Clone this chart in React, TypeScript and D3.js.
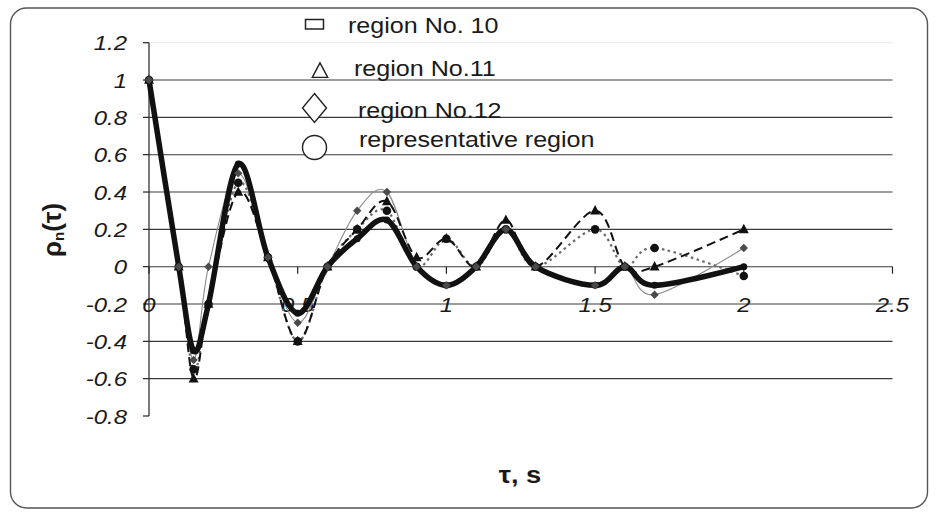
import React from "react";
import * as d3 from "d3";

// Lag values (s) and normalised autocorrelation for each region
const TAU = [0, 0.1, 0.15, 0.2, 0.3, 0.4, 0.5, 0.6, 0.7, 0.8, 0.9, 1.0, 1.1, 1.2, 1.3, 1.5, 1.6, 1.7, 2.0];
const REGION_10 = [1, 0, -0.55, -0.2, 0.45, 0.05, -0.4, 0, 0.2, 0.3, 0, 0.15, 0, 0.2, 0, 0.2, 0, 0.1, -0.05];
const REGION_11 = [1, 0, -0.6, -0.2, 0.4, 0.05, -0.4, 0, 0.2, 0.35, 0.05, 0.15, 0, 0.25, 0, 0.3, 0, 0, 0.2];
const REGION_12 = [1, 0, -0.5, 0, 0.5, 0.05, -0.3, 0, 0.3, 0.4, 0, -0.1, 0, 0.2, 0, -0.1, 0, -0.15, 0.1];
const REPRESENTATIVE = [1, 0, -0.45, -0.2, 0.55, 0.05, -0.25, 0, 0.15, 0.25, 0, -0.1, 0, 0.2, 0, -0.1, 0, -0.1, 0];

const X_TICKS = [0, 0.5, 1, 1.5, 2, 2.5];
const Y_TICKS = [1.2, 1, 0.8, 0.6, 0.4, 0.2, 0, -0.2, -0.4, -0.6, -0.8];
const LEGEND_LABELS = ["region No. 10", "region No.11", "region No.12", "representative region"];

const FONT = "'Liberation Sans', Arial, Helvetica, sans-serif";
const SX = 1.14;

const W = 938;
const H = 515;
const left = 149;
const right = 892.5;
const top = 42.7;
const bottom = 416;

const x = d3.scaleLinear().domain([0, 2.5]).range([left, right]);
const y = d3.scaleLinear().domain([-0.8, 1.2]).range([bottom, top]);

const line = d3
  .line<number>()
  .x((_, i) => x(TAU[i]))
  .y((v) => y(v))
  .curve(d3.curveCardinal.tension(0));

type TProps = {
  x: number;
  y: number;
  size: number;
  anchor?: "start" | "middle" | "end";
  italic?: boolean;
  bold?: boolean;
  children: React.ReactNode;
};

const Label = ({ x: tx, y: ty, size, anchor = "start", italic, bold, children }: TProps) => (
  <text
    transform={`translate(${tx},${ty}) scale(${SX},1)`}
    fontSize={size}
    fontFamily={FONT}
    fontStyle={italic ? "italic" : "normal"}
    fontWeight={bold ? "bold" : "normal"}
    textAnchor={anchor}
    fill="#1a1a1a"
  >
    {children}
  </text>
);

const triangle = (cx: number, cy: number, s: number) =>
  `M${cx},${cy - s * 0.62}L${cx + s * 0.55},${cy + s * 0.42}L${cx - s * 0.55},${cy + s * 0.42}Z`;
const diamond = (cx: number, cy: number, w: number, h: number) =>
  `M${cx},${cy - h}L${cx + w},${cy}L${cx},${cy + h}L${cx - w},${cy}Z`;

export default function App() {
  return (
    <svg
      width={W}
      height={H}
      style={{ position: "fixed", left: 0, top: 0, background: "#fff" }}
    >
      {/* outer frame */}
      <rect x={10.5} y={8} width={917} height={500} rx={16} ry={16} fill="#fff" stroke="#555" strokeWidth={1.4} />

      {/* gridlines */}
      <line x1={left} x2={right} y1={y(1.2)} y2={y(1.2)} stroke="#e6e6e6" strokeWidth={1} />
      {Y_TICKS.filter((t) => t <= 1 && t >= -0.6).map((t) => (
        <line key={`g${t}`} x1={left} x2={right} y1={y(t)} y2={y(t)} stroke="#3a3a3a" strokeWidth={1.1} />
      ))}

      {/* y axis */}
      <line x1={left} x2={left} y1={y(1.2)} y2={y(-0.8)} stroke="#222" strokeWidth={1.2} />
      {Y_TICKS.map((t) => (
        <g key={`yt${t}`}>
          <line x1={left - 6} x2={left} y1={y(t)} y2={y(t)} stroke="#222" strokeWidth={1.2} />
          <Label x={127} y={y(t) + 7.5} size={21} anchor="end" italic>
            {String(t)}
          </Label>
        </g>
      ))}

      {/* x axis ticks on the zero line */}
      {X_TICKS.map((t) => (
        <g key={`xt${t}`}>
          <line x1={x(t)} x2={x(t)} y1={y(0)} y2={y(0) + 7} stroke="#222" strokeWidth={1.2} />
          <Label x={x(t)} y={y(-0.2) + 8} size={21} anchor="middle" italic>
            {String(t)}
          </Label>
        </g>
      ))}

      {/* series lines */}
      <path d={line(REGION_12) ?? ""} fill="none" stroke="#8a8a8a" strokeWidth={1.1} />
      <path d={line(REGION_10) ?? ""} fill="none" stroke="#6a6a6a" strokeWidth={2.2} strokeDasharray="2.5,3.5" />
      <path d={line(REGION_11) ?? ""} fill="none" stroke="#111" strokeWidth={2} strokeDasharray="9,5" />
      <path d={line(REPRESENTATIVE) ?? ""} fill="none" stroke="#111" strokeWidth={5.5} strokeLinejoin="round" />

      {/* series markers */}
      {REPRESENTATIVE.map((v, i) => (
        <circle key={`r${i}`} cx={x(TAU[i])} cy={y(v)} r={3.5} fill="#111" />
      ))}
      {REGION_10.map((v, i) => (
        <circle key={`a${i}`} cx={x(TAU[i])} cy={y(v)} r={4.3} fill="#111" />
      ))}
      {REGION_11.map((v, i) => (
        <path key={`b${i}`} d={triangle(x(TAU[i]), y(v), 9)} fill="#111" />
      ))}
      {REGION_12.map((v, i) => (
        <path key={`c${i}`} d={diamond(x(TAU[i]), y(v), 4.2, 4.2)} fill="#4a4a4a" />
      ))}

      {/* legend */}
      <rect x={305.5} y={19.5} width={18} height={9.5} fill="#fff" stroke="#222" strokeWidth={1.5} />
      <Label x={348} y={33} size={22}>{LEGEND_LABELS[0]}</Label>
      <path d={triangle(320, 71.5, 14)} fill="#fff" stroke="#222" strokeWidth={1.4} />
      <Label x={354} y={76} size={22}>{LEGEND_LABELS[1]}</Label>
      <path d={diamond(314.5, 108, 12, 14.5)} fill="#fff" stroke="#222" strokeWidth={1.4} />
      <Label x={358} y={118} size={22}>{LEGEND_LABELS[2]}</Label>
      <circle cx={314.5} cy={147.5} r={12} fill="#fff" stroke="#222" strokeWidth={1.4} />
      <Label x={359} y={147} size={22}>{LEGEND_LABELS[3]}</Label>

      {/* axis titles */}
      <g transform="translate(61,230) rotate(-90)">
        <text textAnchor="middle" fontFamily={FONT} fontWeight="bold" fontSize={26} fill="#1a1a1a">
          ρ<tspan fontSize={15} dy={3}>n</tspan>
          <tspan dy={-3}>(τ)</tspan>
        </text>
      </g>
      <Label x={520} y={483} size={24} anchor="middle" bold>
        τ, s
      </Label>
    </svg>
  );
}
